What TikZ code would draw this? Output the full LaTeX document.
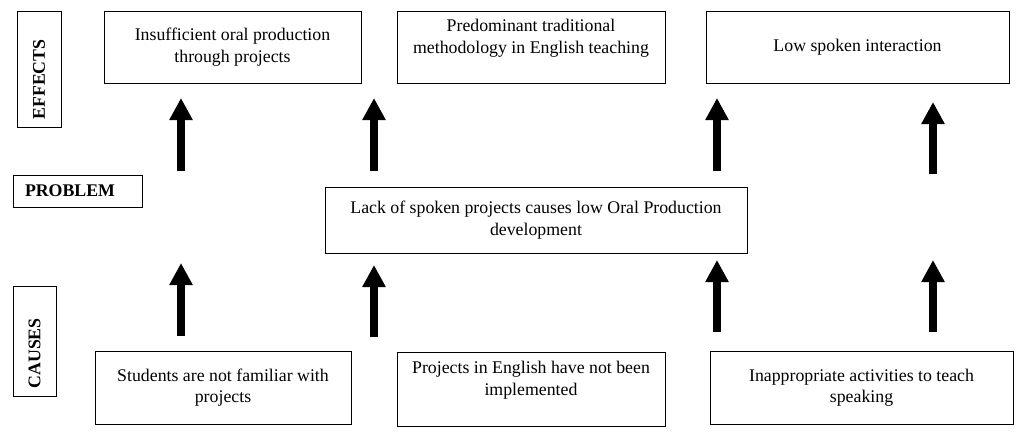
\documentclass[tikz,border=0pt]{standalone}
\usepackage{fontspec}
\setmainfont{Liberation Serif}
\usetikzlibrary{arrows.meta}
\begin{document}
\begin{tikzpicture}[x=1pt,y=-1pt,
  box/.style={draw, line width=1pt, inner sep=0pt, align=center,
    font=\fontsize{17.8}{21.5}\selectfont},
  lab/.style={draw, line width=1pt, inner ysep=0pt, align=left,
    font=\fontsize{17.8}{21.5}\selectfont\bfseries},
  bigarrow/.style={line width=8pt, -{Triangle[width=22pt,length=22pt]}}]
\useasboundingbox (0,0) rectangle (1019,434);

% side labels
\node[lab, rotate=90, inner xsep=7.5pt, text width=101pt, minimum height=44pt] (effects) at (39,69) {EFFECTS};
\node[lab, inner xsep=12pt, text width=105pt, minimum height=32pt] (problem) at (77.5,191) {PROBLEM};
\node[lab, rotate=90, inner xsep=7.5pt, text width=95pt, minimum height=43pt] (causes) at (34.5,341) {CAUSES};

% effects
\node[box, minimum width=257pt, minimum height=72pt] (e1) at (232.5,47) {Insufficient oral production\\through projects};
\node[box, minimum width=268pt, minimum height=72pt] (e2) at (531,47) {Predominant traditional\\methodology in English teaching\\\mbox{}};
\node[box, minimum width=303pt, minimum height=72pt] (e3) at (857.5,47) {Low spoken interaction};

% problem
\node[box, minimum width=422pt, minimum height=66pt] (p) at (536,220) {Lack of spoken projects causes low Oral Production\\development};

% causes
\node[box, minimum width=256pt, minimum height=73pt] (c1) at (223,387.5) {Students are not familiar with\\projects};
\node[box, minimum width=268pt, minimum height=74pt] (c2) at (531,389) {Projects in English have not been\\implemented\\\mbox{}};
\node[box, minimum width=303pt, minimum height=73pt] (c3) at (861.5,387.5) {Inappropriate activities to teach\\speaking};

% arrow end points
\coordinate (t1s) at (181,171); \coordinate (t1e) at (181,98);
\coordinate (t2s) at (374,171); \coordinate (t2e) at (374,98);
\coordinate (t3s) at (717,171); \coordinate (t3e) at (717,98);
\coordinate (t4s) at (933,174); \coordinate (t4e) at (933,102);
\coordinate (b1s) at (181,336); \coordinate (b1e) at (181,263);
\coordinate (b2s) at (374,337); \coordinate (b2e) at (374,265);
\coordinate (b3s) at (717,332); \coordinate (b3e) at (717,260);
\coordinate (b4s) at (933,332); \coordinate (b4e) at (933,260);

\foreach \a in {t1,t2,t3,t4,b1,b2,b3,b4}
  \draw[bigarrow] (\a s) -- (\a e);
\end{tikzpicture}
\end{document}
